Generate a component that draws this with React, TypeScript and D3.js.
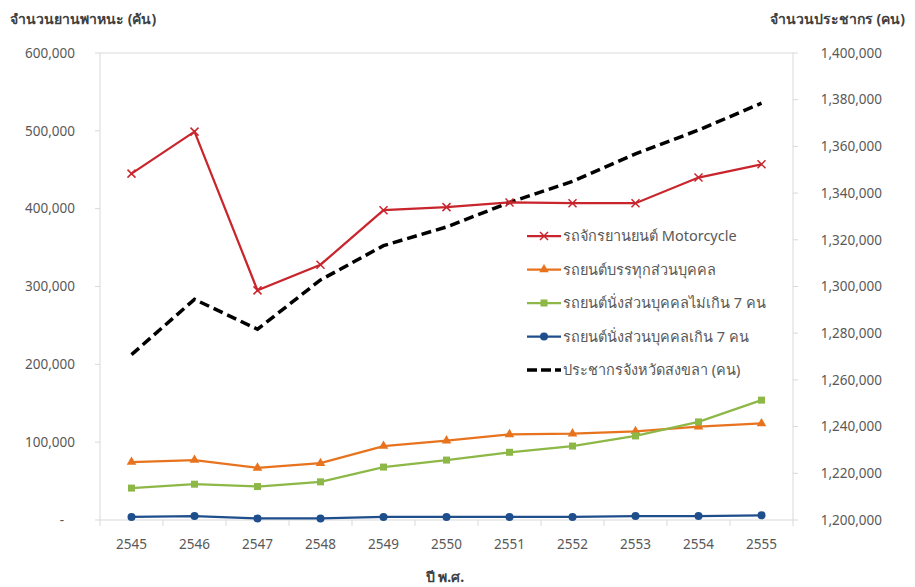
import React from "react";
import * as d3 from "d3";

const width = 915;
const height = 587;
const margin = { top: 53, right: 122, bottom: 67, left: 100 };

const years = ["2545", "2546", "2547", "2548", "2549", "2550", "2551", "2552", "2553", "2554", "2555"];

const motorcycle = [445000, 499000, 295000, 328000, 398000, 402000, 408000, 407000, 407000, 440000, 457000];
const truck = [74500, 77000, 67000, 73000, 95000, 102000, 110000, 111000, 114000, 120000, 124000];
const carSmall = [41000, 46000, 43000, 49000, 68000, 77000, 87000, 95000, 108000, 126000, 154000];
const carBig = [4000, 5000, 2000, 2000, 4000, 4000, 4000, 4000, 5000, 5000, 6000];
const population = [1270800, 1294500, 1281700, 1302800, 1317500, 1325500, 1336000, 1345000, 1356800, 1367000, 1378500];

const leftTicks = [0, 100000, 200000, 300000, 400000, 500000, 600000];
const rightTicks = [1200000, 1220000, 1240000, 1260000, 1280000, 1300000, 1320000, 1340000, 1360000, 1380000, 1400000];

const series = [
  { name: "รถจักรยานยนต์ Motorcycle", values: motorcycle, color: "#c8252c", marker: "x" },
  { name: "รถยนต์บรรทุกส่วนบุคคล", values: truck, color: "#e8731e", marker: "tri" },
  { name: "รถยนต์นั่งส่วนบุคคลไม่เกิน 7 คน", values: carSmall, color: "#8db847", marker: "sq" },
  { name: "รถยนต์นั่งส่วนบุคคลเกิน 7 คน", values: carBig, color: "#1f4e8c", marker: "dot" },
];

const font = "Tahoma, 'Noto Sans', 'DejaVu Sans', sans-serif";

function Marker({ type, x, y, color }: { type: string; x: number; y: number; color: string }) {
  if (type === "x")
    return <path d={`M${x - 4},${y - 4}L${x + 4},${y + 4}M${x - 4},${y + 4}L${x + 4},${y - 4}`} stroke={color} strokeWidth={1.5} />;
  if (type === "tri") return <path d={d3.symbol(d3.symbolTriangle, 40)()!} transform={`translate(${x},${y})`} fill={color} />;
  if (type === "sq") return <rect x={x - 3.5} y={y - 3.5} width={7} height={7} fill={color} />;
  return <circle cx={x} cy={y} r={4} fill={color} />;
}

export default function App() {
  const x = d3.scaleBand().domain(years).range([margin.left, width - margin.right]);
  const yL = d3.scaleLinear().domain([0, 600000]).range([height - margin.bottom, margin.top]);
  const yR = d3.scaleLinear().domain([1200000, 1400000]).range([height - margin.bottom, margin.top]);
  const cx = (d: string) => x(d)! + x.bandwidth() / 2;
  const fmt = d3.format(",");
  const bottom = height - margin.bottom;
  const right = width - margin.right;

  const lineL = d3.line<number>().x((_, i) => cx(years[i])).y((d) => yL(d));
  const lineR = d3.line<number>().x((_, i) => cx(years[i])).y((d) => yR(d));

  const legendX = 527;
  const legendY = 236;
  const legendStep = 33.5;

  return (
    <svg width={width} height={height} style={{ position: "absolute", left: 0, top: 0, background: "#fff" }} fontFamily={font}>
      <rect x={margin.left} y={margin.top} width={right - margin.left} height={bottom - margin.top} fill="none" stroke="#d9d9d9" />
      {/* left axis */}
      {leftTicks.map((t) => (
        <g key={"l" + t}>
          <line x1={margin.left - 5} x2={margin.left} y1={yL(t)} y2={yL(t)} stroke="#d9d9d9" />
          <text x={t === 0 ? 64 : 75} y={yL(t)} dy="0.35em" textAnchor="end" fontSize={13.5} fill="#595959">
            {t === 0 ? "-" : fmt(t)}
          </text>
        </g>
      ))}
      {/* right axis */}
      {rightTicks.map((t) => (
        <g key={"r" + t}>
          <line x1={right} x2={right + 5} y1={yR(t)} y2={yR(t)} stroke="#d9d9d9" />
          <text x={882} y={yR(t)} dy="0.35em" textAnchor="end" fontSize={13.5} fill="#595959">
            {fmt(t)}
          </text>
        </g>
      ))}
      {/* x axis */}
      {years.map((yr) => (
        <g key={yr}>
          <line x1={x(yr)!} x2={x(yr)!} y1={bottom} y2={bottom + 6} stroke="#d9d9d9" />
          <text x={cx(yr)} y={bottom + 29} textAnchor="middle" fontSize={13.5} fill="#595959">
            {yr}
          </text>
        </g>
      ))}
      <line x1={right} x2={right} y1={bottom} y2={bottom + 6} stroke="#d9d9d9" />
      <text x={445} y={582} textAnchor="middle" fontSize={14} fontWeight="bold" fill="#404040">ปี พ.ศ.</text>
      <text x={10} y={24} fontSize={14} fontWeight="bold" fill="#404040">จำนวนยานพาหนะ (คัน)</text>
      <text x={905} y={24} textAnchor="end" fontSize={14} fontWeight="bold" fill="#404040">จำนวนประชากร (คน)</text>

      {/* population dashed */}
      <path d={lineR(population)!} fill="none" stroke="#000" strokeWidth={3.5} strokeDasharray="10,5" />
      {series.map((s) => (
        <g key={s.name}>
          <path d={lineL(s.values)!} fill="none" stroke={s.color} strokeWidth={2.25} />
          {s.values.map((v, i) => (
            <Marker key={i} type={s.marker} x={cx(years[i])} y={yL(v)} color={s.color} />
          ))}
        </g>
      ))}

      {/* legend */}
      {series.map((s, i) => (
        <g key={"lg" + i} transform={`translate(${legendX},${legendY + i * legendStep})`}>
          <line x1={0} x2={34} y1={0} y2={0} stroke={s.color} strokeWidth={2.25} />
          <Marker type={s.marker} x={17} y={0} color={s.color} />
          <text x={36} y={0} dy="0.35em" fontSize={14.5} fill="#595959">{s.name}</text>
        </g>
      ))}
      <g transform={`translate(${legendX},${legendY + 4 * legendStep})`}>
        <line x1={0} x2={34} y1={0} y2={0} stroke="#000" strokeWidth={3.5} strokeDasharray="10,4" />
        <text x={36} y={0} dy="0.35em" fontSize={14.5} fill="#595959">ประชากรจังหวัดสงขลา (คน)</text>
      </g>
    </svg>
  );
}
